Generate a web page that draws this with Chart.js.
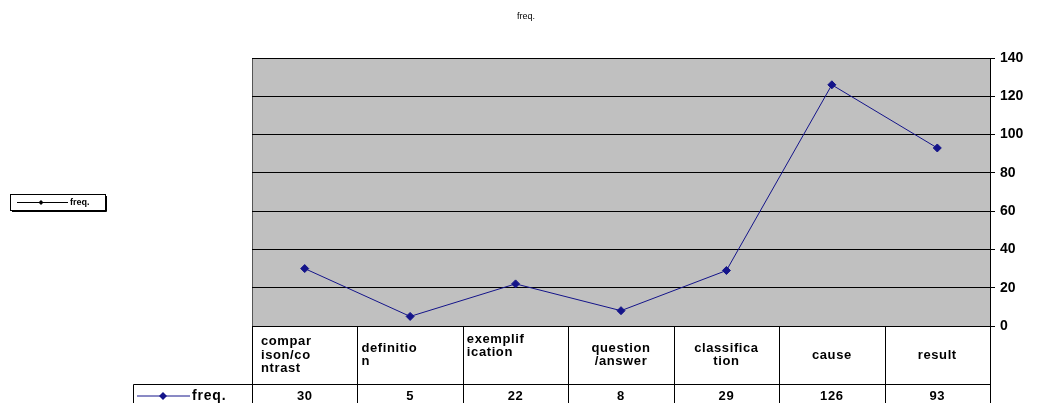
<!DOCTYPE html>
<html>
<head>
<meta charset="utf-8">
<script src="https://cdn.jsdelivr.net/npm/chart.js@4/dist/chart.umd.min.js"></script>
<style>
  html, body { margin: 0; padding: 0; background: #fff; }
  #wrap { width: 1038px; height: 403px; position: relative; }
</style>
</head>
<body>
<div id="wrap"><canvas id="freqChart"></canvas></div>
<script>
// Data
const categories = [
  ["compar", "ison/co", "ntrast"],
  ["definitio", "n"],
  ["exemplif", "ication"],
  ["question", "/answer"],
  ["classifica", "tion"],
  ["cause"],
  ["result"]
];
const freqValues = [30, 5, 22, 8, 29, 126, 93];
const yTicks = [0, 20, 40, 60, 80, 100, 120, 140];
const seriesName = "freq.";

// Header cell layout (how Excel wrapped/aligned the text)
const headerAlign = ["left", "left", "left", "center", "center", "center", "center"];
const headerTop = [false, false, true, false, false, false, false];

const lineColor = "#14148a";
const tableFont = "bold 13px Arial, 'Liberation Sans', sans-serif";

function diamond(ctx, x, y, r) {
  ctx.beginPath();
  ctx.moveTo(x, y - r);
  ctx.lineTo(x + r, y);
  ctx.lineTo(x, y + r);
  ctx.lineTo(x - r, y);
  ctx.closePath();
  ctx.fill();
}

const excelPlugin = {
  id: "excelTable",
  beforeDraw(chart) {
    const { ctx, chartArea: a } = chart;
    ctx.save();
    ctx.fillStyle = "#c0c0c0";
    ctx.fillRect(a.left, a.top, a.right - a.left, a.bottom - a.top);
    ctx.strokeStyle = "#555";
    ctx.lineWidth = 1;
    ctx.beginPath();
    ctx.moveTo(a.left + 0.5, a.bottom);
    ctx.lineTo(a.left + 0.5, a.top + 0.5);
    ctx.lineTo(a.right, a.top + 0.5);
    ctx.stroke();
    ctx.restore();
  },
  afterDraw(chart) {
    const { ctx, chartArea: a } = chart;
    const x = chart.scales.x;
    const half = (x.getPixelForValue(1) - x.getPixelForValue(0)) / 2;
    const rowTop = a.bottom;
    const rowH = 58;
    const valTop = rowTop + rowH;
    const bottom = chart.height + 5;

    ctx.save();
    ctx.fillStyle = "#fff";
    ctx.fillRect(a.left, rowTop + 1, a.right - a.left, bottom - rowTop);

    // grid of the data table
    ctx.strokeStyle = "#000";
    ctx.lineWidth = 1;
    ctx.beginPath();
    for (let i = 0; i <= categories.length; i++) {
      const px = Math.round(x.getPixelForValue(i) - half) + 0.5;
      ctx.moveTo(px, rowTop);
      ctx.lineTo(px, bottom);
    }
    ctx.moveTo(a.left, Math.round(valTop) + 0.5);
    ctx.lineTo(a.right, Math.round(valTop) + 0.5);
    // legend key cell
    ctx.moveTo(133.5, bottom);
    ctx.lineTo(133.5, Math.round(valTop) + 0.5);
    ctx.lineTo(a.left, Math.round(valTop) + 0.5);
    ctx.stroke();

    // header texts
    ctx.fillStyle = "#000";
    ctx.font = tableFont;
    ctx.letterSpacing = "0.6px";
    ctx.textBaseline = "middle";
    const lh = 13.5;
    categories.forEach((lines, i) => {
      const cx = x.getPixelForValue(i);
      const left = cx - half;
      const startY = headerTop[i]
        ? rowTop + 13
        : rowTop + rowH / 2 - ((lines.length - 1) * lh) / 2;
      ctx.textAlign = headerAlign[i];
      const tx = headerAlign[i] === "left" ? left + (i === 0 ? 9 : 4) : cx;
      lines.forEach((ln, j) => ctx.fillText(ln, tx, startY + j * lh));
    });

    // value row
    ctx.textAlign = "center";
    freqValues.forEach((v, i) => {
      ctx.fillText(String(v), x.getPixelForValue(i), valTop + 12);
    });

    // legend key in table
    const ky = valTop + 12;
    ctx.strokeStyle = lineColor;
    ctx.beginPath();
    ctx.moveTo(137, ky);
    ctx.lineTo(190, ky);
    ctx.stroke();
    ctx.fillStyle = lineColor;
    diamond(ctx, 163, ky, 4);
    ctx.fillStyle = "#000";
    ctx.font = "bold 14px Arial, 'Liberation Sans', sans-serif";
    ctx.letterSpacing = "0.8px";
    ctx.textAlign = "left";
    ctx.fillText(seriesName, 192, ky);
    ctx.letterSpacing = "0px";

    // title
    ctx.font = "9px Arial, 'Liberation Sans', sans-serif";
    ctx.textAlign = "center";
    ctx.fillText(seriesName, 526, 17);

    // side legend
    ctx.strokeStyle = "#000";
    ctx.strokeRect(10.5, 194.5, 95, 16);
    ctx.beginPath();
    ctx.moveTo(106.5, 196);
    ctx.lineTo(106.5, 211.5);
    ctx.lineTo(12, 211.5);
    ctx.stroke();
    ctx.beginPath();
    ctx.moveTo(17, 202.5);
    ctx.lineTo(68, 202.5);
    ctx.stroke();
    ctx.fillStyle = "#000";
    diamond(ctx, 41, 202.5, 2.5);
    ctx.font = "bold 9px Arial, 'Liberation Sans', sans-serif";
    ctx.textAlign = "left";
    ctx.fillText(seriesName, 70, 203);
    ctx.restore();
  }
};

new Chart(document.getElementById("freqChart"), {
  type: "line",
  data: {
    labels: categories.map(c => c.join("")),
    datasets: [{
      label: seriesName,
      data: freqValues,
      borderColor: lineColor,
      backgroundColor: lineColor,
      borderWidth: 1,
      pointStyle: "rectRot",
      pointRadius: 4,
      pointHoverRadius: 4,
      tension: 0,
      fill: false
    }]
  },
  options: {
    responsive: true,
    maintainAspectRatio: false,
    animation: false,
    events: [],
    layout: { padding: { left: 252, top: 58, bottom: 77, right: 0 } },
    plugins: {
      legend: { display: false },
      title: { display: false },
      tooltip: { enabled: false }
    },
    scales: {
      x: {
        type: "category",
        display: false,
        offset: true
      },
      y: {
        position: "right",
        min: yTicks[0],
        max: yTicks[yTicks.length - 1],
        afterBuildTicks(scale) {
          scale.ticks = yTicks.map(v => ({ value: v }));
        },
        afterFit(scale) {
          scale.width = 48;
        },
        ticks: {
          color: "#000",
          font: { family: "Arial, 'Liberation Sans', sans-serif", size: 14, weight: "bold" },
          padding: 5
        },
        grid: {
          color: "#000",
          lineWidth: 1,
          tickLength: 5,
          drawOnChartArea: true
        },
        border: { display: true, color: "#000", width: 1 }
      }
    }
  },
  plugins: [excelPlugin]
});
</script>
</body>
</html>
